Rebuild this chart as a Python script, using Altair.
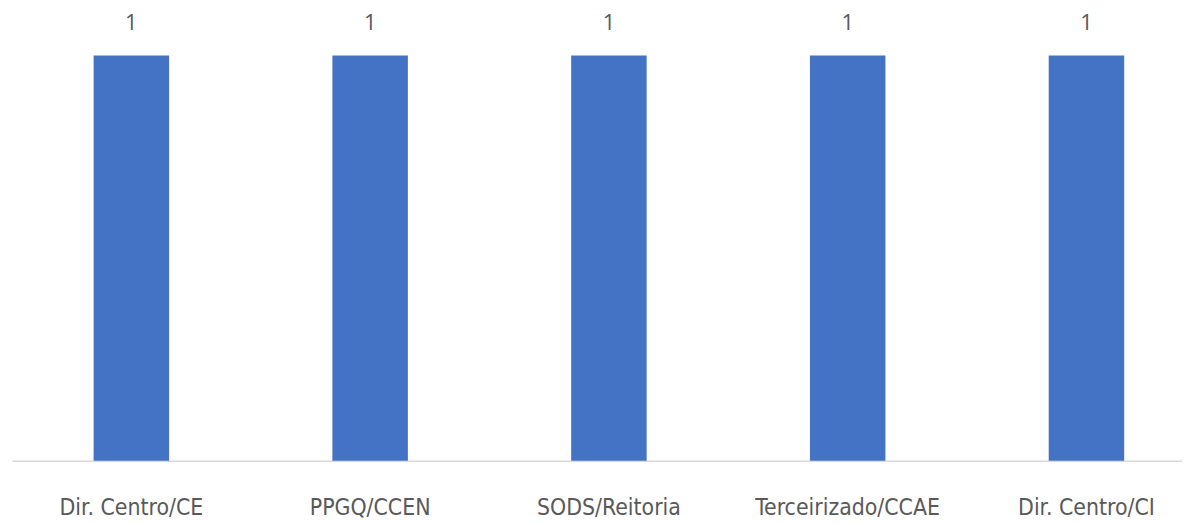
import altair as alt
import pandas as pd

categories = ["Dir. Centro/CE", "PPGQ/CCEN", "SODS/Reitoria", "Terceirizado/CCAE", "Dir. Centro/CI"]
values = [1, 1, 1, 1, 1]

df = pd.DataFrame({"cat": categories, "val": values})

x = alt.X("cat:N", sort=categories, title=None,
          scale=alt.Scale(paddingInner=0, paddingOuter=0, range=[0, 1202]),
          axis=alt.Axis(labelAngle=0, labelFont="DejaVu Sans Condensed", labelFontSize=23,
                        labelColor="#595959", labelPadding=36, ticks=False, labelLimit=400,
                        domainColor="#d9d9d9", domainWidth=1.5, labelFontWeight=500))
y = alt.Y("val:Q", title=None, scale=alt.Scale(domain=[0, 1]), axis=None)

bars = alt.Chart(df).mark_bar(color="#4472c4", size=76).encode(x=x, y=y)
text = alt.Chart(df).mark_text(dy=-33, fontSize=22, color="#595959", font="Open Sans").encode(
    x=alt.X("cat:N", sort=categories), y=y, text="val:Q")

chart = (bars + text).properties(
    width=1178, height=408,
    padding={"left": 4, "right": 0, "top": 46, "bottom": 62},
    autosize=alt.AutoSizeParams(type="none"),
).configure(background="white").configure_view(stroke=None)

chart.save("out.html", embed_options={"renderer": "svg", "actions": False})
